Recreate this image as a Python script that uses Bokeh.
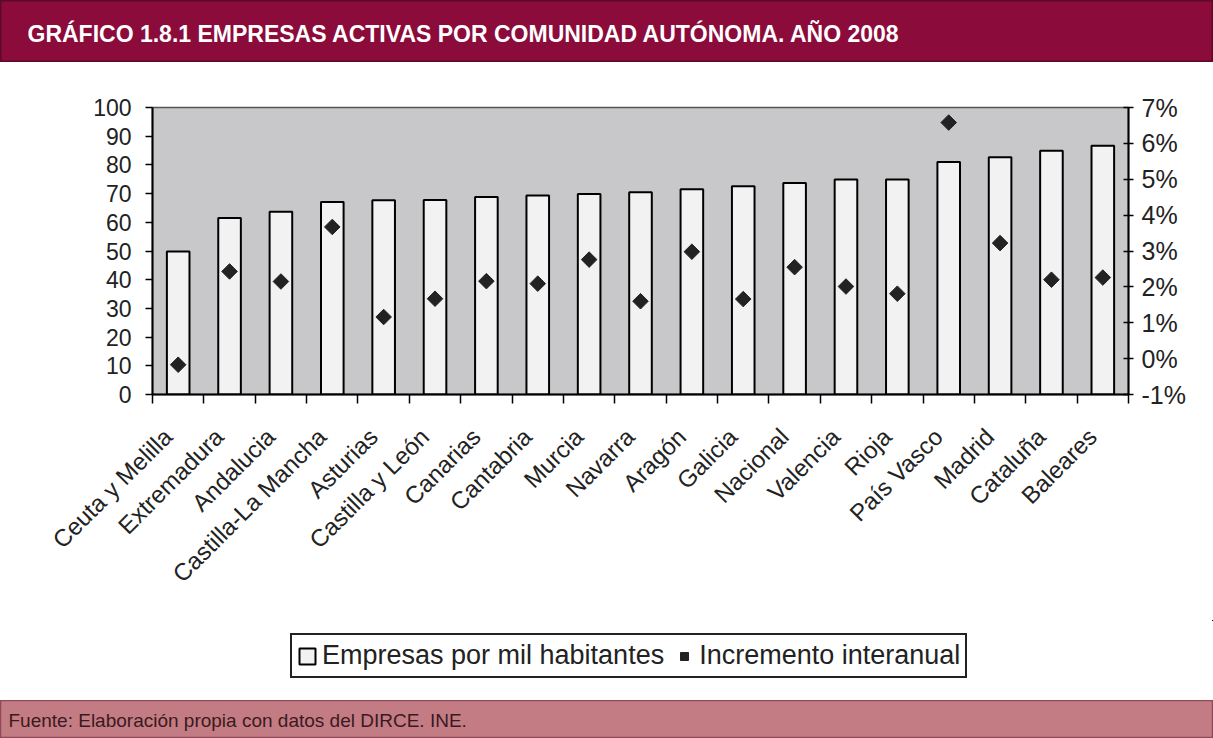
from math import pi
from bokeh.plotting import figure
from bokeh.models import (Range1d, LinearAxis, FixedTicker,
                          PrintfTickFormatter, Legend, LegendItem, Label,
                          ColumnDataSource)
from bokeh.embed import file_html
from bokeh.resources import INLINE

TITLE = "GRÁFICO 1.8.1 EMPRESAS ACTIVAS POR COMUNIDAD AUTÓNOMA. AÑO 2008"
SOURCE = "Fuente: Elaboración propia con datos del DIRCE. INE."
SERIES_BARS = "Empresas por mil habitantes"
SERIES_PTS = "Incremento interanual"

categories = ["Ceuta y Melilla", "Extremadura", "Andalucia", "Castilla-La Mancha",
              "Asturias", "Castilla y León", "Canarias", "Cantabria", "Murcia",
              "Navarra", "Aragón", "Galicia", "Nacional", "Valencia", "Rioja",
              "País Vasco", "Madrid", "Cataluña", "Baleares"]
empresas = [49.8, 61.5, 63.7, 67.1, 67.7, 67.8, 68.8, 69.3, 69.9, 70.5,
            71.5, 72.6, 73.7, 74.9, 74.9, 81.0, 82.7, 84.9, 86.7]
incremento = [-0.17, 2.43, 2.15, 3.67, 1.16, 1.67, 2.16, 2.09, 2.76, 1.60,
              2.98, 1.66, 2.55, 2.01, 1.81, 6.58, 3.22, 2.20, 2.26]
left_ticks = list(range(0, 101, 10))
right_ticks = list(range(-1, 8))

FONT = "Liberation Sans"
W = 1213
LABEL_NUDGE = 0.2    # shifts the rotated category labels slightly left

BAR_STYLE = dict(width=0.44, fill_color="#F2F2F2", line_color="black", line_width=2)
PT_STYLE = dict(marker="square", angle=pi / 4, size=11,
                fill_color="#222222", line_color="#222222")

n = len(categories)
centres = [i + 0.5 for i in range(n)]      # category slots on a numeric scale
bounds = list(range(n + 1))                 # slot boundaries (tick marks)
src = ColumnDataSource(dict(x=centres, cat=categories, emp=empresas, inc=incremento))

# ---------------- header ----------------
h = figure(width=W, height=62, x_range=Range1d(0, 1), y_range=Range1d(0, 1),
           output_backend="svg", toolbar_location=None, min_border=0,
           x_axis_location=None, y_axis_location=None)
h.background_fill_color = "#8B0B3A"
h.border_fill_color = "#8B0B3A"
h.outline_line_color = "#5C0A26"
h.outline_line_width = 2
h.grid.visible = False
h.add_layout(Label(x=27, y=29, x_units="screen", y_units="screen", text=TITLE,
                   text_color="white", text_font=FONT,
                   text_font_style="bold", text_font_size="23px",
                   text_baseline="middle"))

# ---------------- main chart ----------------
p = figure(frame_width=976, frame_height=287, x_range=Range1d(0, n),
           y_range=Range1d(0, 100), output_backend="svg", toolbar_location=None,
           x_axis_location=None, y_axis_location=None,
           min_border_left=152, min_border_right=85, min_border_top=45,
           min_border_bottom=226)
p.background_fill_color = "#C8C8CA"
p.border_fill_color = "white"
p.outline_line_color = "#555555"
p.outline_line_width = 1.5
p.grid.visible = False
p.extra_y_ranges = {"pct": Range1d(-1, 7)}
p.extra_x_ranges = {"lab": Range1d(LABEL_NUDGE, n + LABEL_NUDGE)}

p.vbar(x="x", top="emp", source=src, **BAR_STYLE)
p.scatter(x="x", y="inc", source=src, y_range_name="pct", **PT_STYLE)

# left axis
la = LinearAxis(ticker=FixedTicker(ticks=left_ticks))
la.axis_line_color = "black"
la.axis_line_width = 2
la.major_tick_out = 7
la.major_tick_in = 0
la.major_tick_line_width = 1.5
la.minor_tick_line_color = None
la.major_label_standoff = 14
la.major_label_text_font = FONT
la.major_label_text_font_size = "23px"
la.major_label_text_color = "#222222"
p.add_layout(la, "left")

# right axis
ra = LinearAxis(y_range_name="pct", ticker=FixedTicker(ticks=right_ticks),
                formatter=PrintfTickFormatter(format="%d%%"))
ra.axis_line_color = "black"
ra.axis_line_width = 2
ra.major_tick_out = 5
ra.major_tick_in = 5
ra.major_tick_line_width = 1.5
ra.minor_tick_line_color = None
ra.major_label_standoff = 8
ra.major_label_text_font = FONT
ra.major_label_text_font_size = "25px"
ra.major_label_text_color = "#222222"
p.add_layout(ra, "right")

# bottom axis 1: tick marks between categories (no labels)
ta = LinearAxis(ticker=FixedTicker(ticks=bounds))
ta.major_label_overrides = {b: "" for b in bounds}
ta.axis_line_color = "black"
ta.axis_line_width = 2
ta.major_tick_line_color = "black"
ta.major_tick_line_width = 1.5
ta.major_tick_out = 9
ta.major_tick_in = 0
ta.minor_tick_line_color = None
ta.major_label_standoff = 0
ta.major_label_text_font_size = "1px"
p.add_layout(ta, "below")

# bottom axis 2: rotated category labels
ba = LinearAxis(x_range_name="lab", ticker=FixedTicker(ticks=centres))
ba.major_label_overrides = {c: name for c, name in zip(centres, categories)}
ba.major_label_orientation = pi / 4
ba.axis_line_color = None
ba.major_tick_line_color = None
ba.minor_tick_line_color = None
ba.major_tick_out = 0
ba.major_tick_in = 0
ba.major_label_standoff = 29
ba.major_label_text_font = FONT
ba.major_label_text_font_size = "24px"
ba.major_label_text_color = "#222222"
p.add_layout(ba, "below")

# ---------------- legend strip ----------------
# key glyphs share the chart's source; this strip's ranges keep them out of view
lg = figure(width=W, height=80, x_range=Range1d(-3, -2), y_range=Range1d(-3, -2),
            output_backend="svg", toolbar_location=None, min_border=0,
            x_axis_location=None, y_axis_location=None)
lg.background_fill_color = "white"
lg.border_fill_color = "white"
lg.outline_line_color = None
lg.grid.visible = False
key_bar = lg.vbar(x="x", top="emp", source=src, **BAR_STYLE)
key_pt = lg.scatter(x="x", y="inc", source=src, **PT_STYLE)
legend = Legend(items=[LegendItem(label=SERIES_BARS, renderers=[key_bar]),
                       LegendItem(label=SERIES_PTS, renderers=[key_pt])],
                orientation="horizontal", location=(290, 22))
legend.label_text_font = FONT
legend.label_text_font_size = "27px"
legend.label_text_color = "#222222"
legend.glyph_width = 20
legend.glyph_height = 20
legend.label_standoff = 5
legend.spacing = 10
legend.padding = 5
legend.margin = 0
legend.border_line_color = "#222222"
legend.border_line_alpha = 1
legend.border_line_width = 2
legend.background_fill_color = "white"
legend.background_fill_alpha = 1
lg.add_layout(legend, "center")

# ---------------- footer ----------------
f = figure(width=W, height=38, x_range=Range1d(0, 1), y_range=Range1d(0, 1),
           output_backend="svg", toolbar_location=None, min_border=0,
           x_axis_location=None, y_axis_location=None)
f.background_fill_color = "#C47C84"
f.border_fill_color = "#C47C84"
f.outline_line_color = "#8E4A55"
f.outline_line_width = 1.5
f.grid.visible = False
f.add_layout(Label(x=8, y=18, x_units="screen", y_units="screen", text=SOURCE,
                   text_color="#3A1A20", text_font=FONT,
                   text_font_size="19px", text_baseline="middle"))

open("out.html", "w").write(file_html([h, p, lg, f], INLINE))
